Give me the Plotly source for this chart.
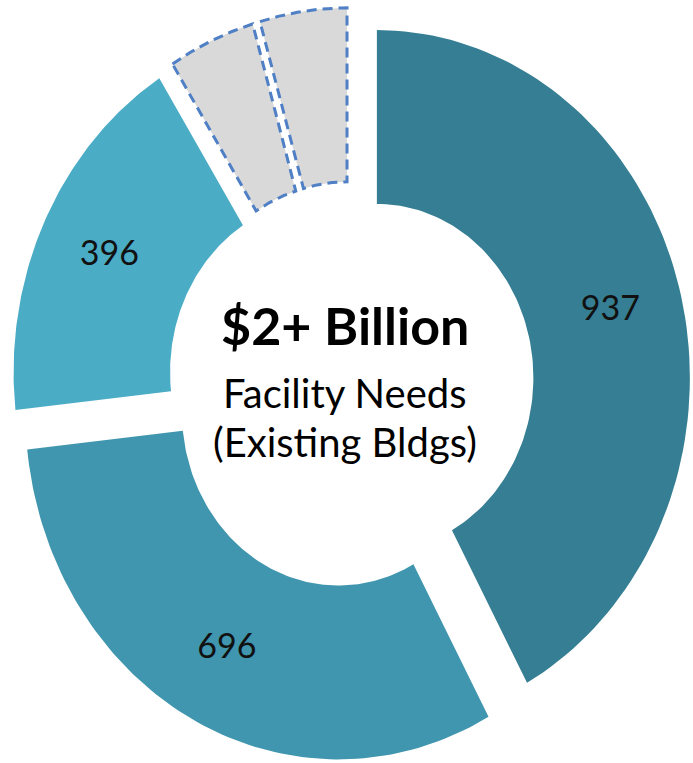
import numpy as np
import plotly.graph_objects as go

# ---- data ----
segments = ["Segment A", "Segment B", "Segment C", "Pending 1", "Pending 2"]
values = [937, 696, 396, 100, 100]
value_labels = ["937", "696", "396", "", ""]
center_lines = ["$2+ Billion", "Facility Needs", "(Existing Bldgs)"]

# ---- styles ----
fill_colors = ["#367E93", "#4096AE", "#4BACC6", "#D9D9D9", "#D9D9D9"]
dashed = [False, False, False, True, True]
outline_color = "#4F7FC4"
HOLE = 0.5          # inner radius as fraction of outer radius
PULL = 0.086        # explosion distance (fraction of outer radius)
LABEL_R = 0.77      # label radius (fraction of outer radius)
W, H = 693, 763

fig = go.Figure()
total = float(sum(values))
start = 0.0
lab_x, lab_y, lab_t = [], [], []
for name, v, lab, col, dsh in zip(segments, values, value_labels, fill_colors, dashed):
    span = v / total * 360.0
    a0, a1 = start, start + span
    mid = np.radians((a0 + a1) / 2)
    cx, cy = PULL * np.sin(mid), PULL * np.cos(mid)
    th_out = np.radians(np.linspace(a0, a1, 90))
    th_in = th_out[::-1]
    xs = np.concatenate([cx + np.sin(th_out), cx + HOLE * np.sin(th_in)])
    ys = np.concatenate([cy + np.cos(th_out), cy + HOLE * np.cos(th_in)])
    xs = np.append(xs, xs[0])
    ys = np.append(ys, ys[0])
    line = dict(color=outline_color, width=3, dash="10px,6px") if dsh else dict(width=0, color=col)
    fig.add_trace(go.Scatter(x=xs, y=ys, mode="lines", fill="toself", fillcolor=col,
                             line=line, name=name, hoverinfo="name", showlegend=False))
    if lab:
        lab_x.append(cx + LABEL_R * np.sin(mid))
        lab_y.append(cy + LABEL_R * np.cos(mid))
        lab_t.append(lab)
    start = a1

fig.add_trace(go.Scatter(x=lab_x, y=lab_y, text=lab_t, mode="text",
                         textfont=dict(family="Lato", size=34, color="#111111"),
                         hoverinfo="skip", showlegend=False))

ann_y = [1 - 325 / H, 1 - 393 / H, 1 - 442 / H]
ann_size = [52, 40, 40]
for i, t in enumerate(center_lines):
    txt = "<b>%s</b>" % t if i == 0 else t
    fig.add_annotation(text=txt, x=345 / W, y=ann_y[i], xref="paper", yref="paper",
                       xanchor="center", yanchor="middle", showarrow=False,
                       font=dict(family="Lato", size=ann_size[i], color="#000000"))

fig.update_layout(
    width=W, height=H,
    margin=dict(l=0, r=0, t=0, b=0),
    paper_bgcolor="white", plot_bgcolor="white",
    xaxis=dict(range=[-1.1208, 1.0933], visible=False, fixedrange=True),
    yaxis=dict(range=[-1.0866, 1.1078], visible=False, fixedrange=True),
    showlegend=False,
)
fig.write_html("out.html")
